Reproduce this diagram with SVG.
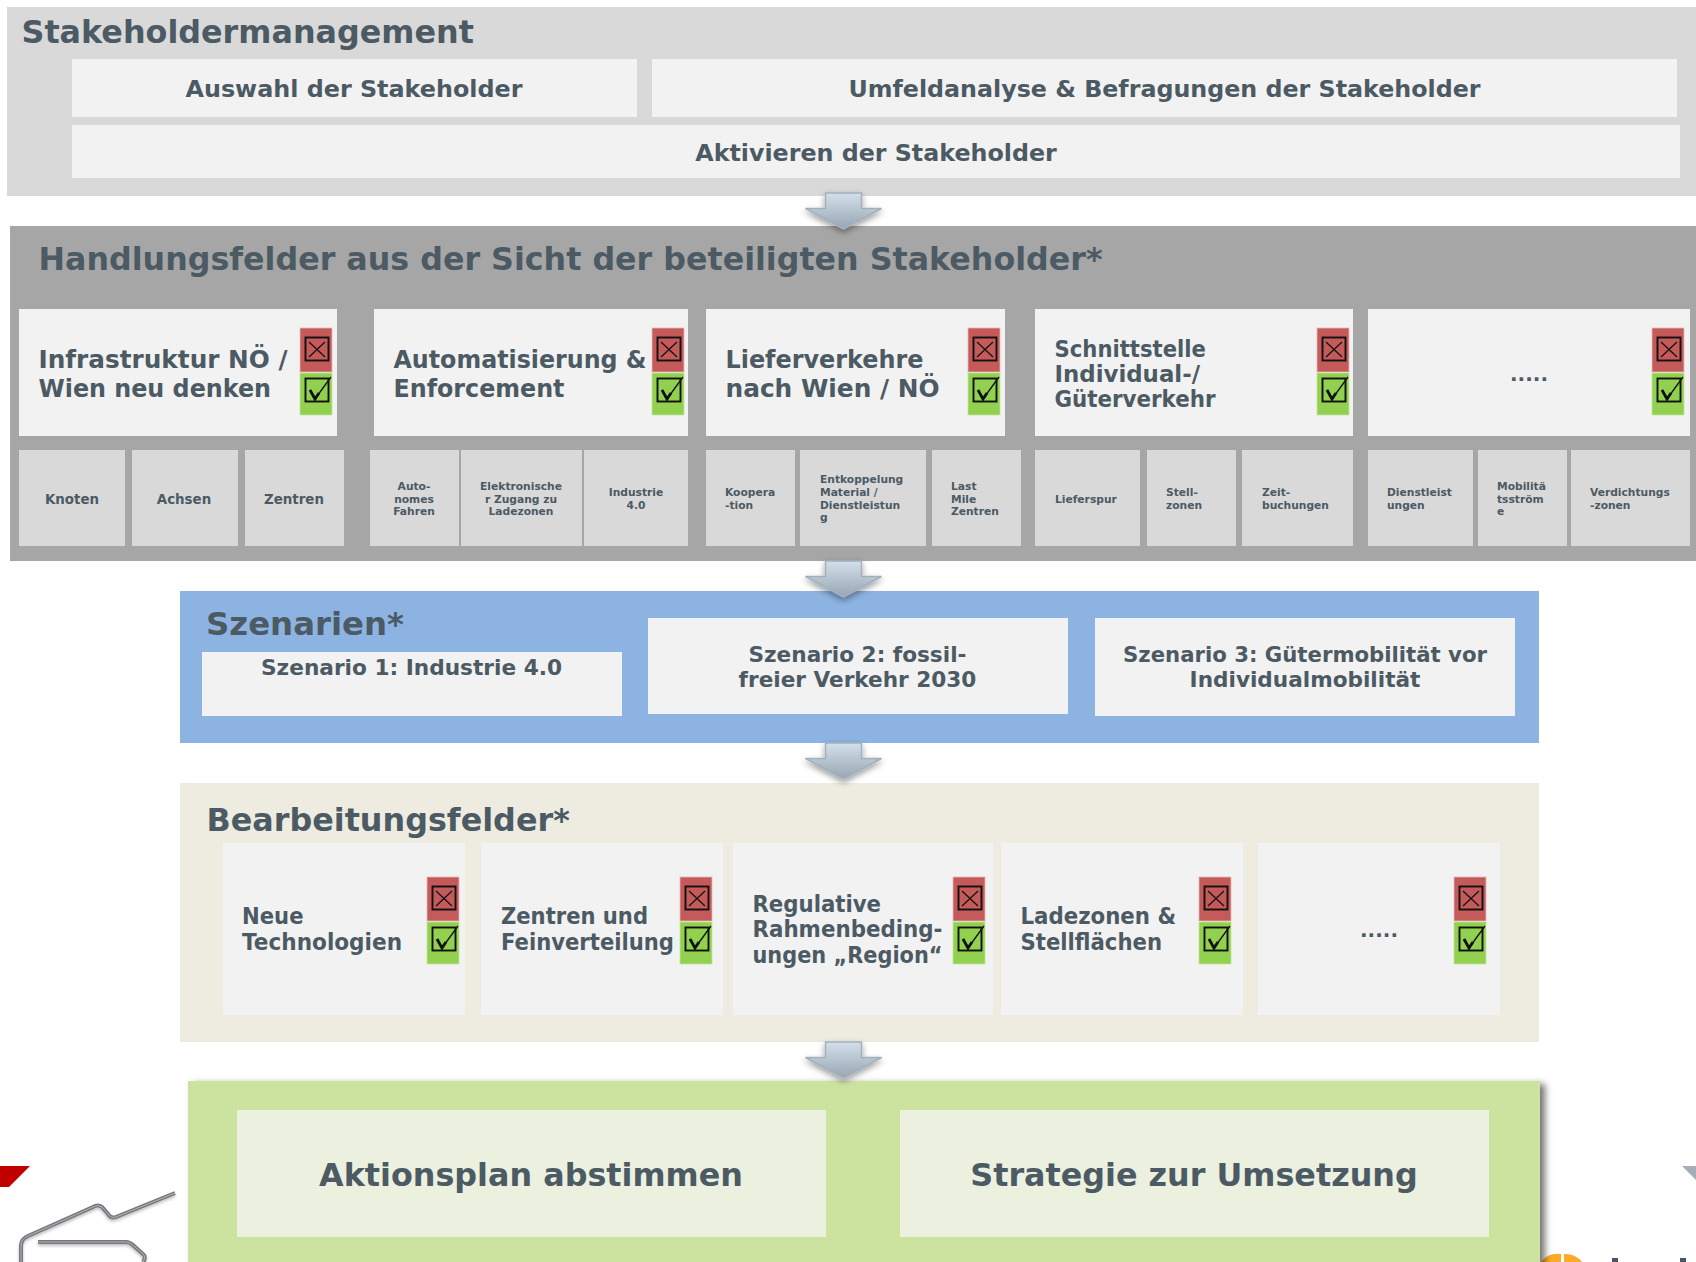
<svg xmlns="http://www.w3.org/2000/svg" width="1696" height="1262" viewBox="0 0 1696 1262">
<style>
text{font-family:"DejaVu Sans","Liberation Sans",sans-serif;font-weight:700;fill:#4c5a64}
.m{text-anchor:middle}
.t1{font-size:31.800px}.t2{font-size:23.750px}.t3{font-size:24.500px}.t4{font-size:22.500px}.t5{font-size:21.600px}.t6{font-size:13.400px}.t7{font-size:10.700px}.t8{font-size:31.800px}.t9{font-size:20px}
.w{fill:#f2f2f2}.c{fill:#d9d9d9}
</style>
<defs>
<linearGradient id="ag" x1="0" y1="0" x2="0" y2="1"><stop offset="0" stop-color="#d3e0ea"/><stop offset="1" stop-color="#97a6b3"/></linearGradient>
<filter id="as" x="-30%" y="-30%" width="160%" height="170%"><feDropShadow dx="0" dy="3" stdDeviation="3" flood-color="#000" flood-opacity=".4"/></filter>
<filter id="ps" x="-2%" y="-5%" width="105%" height="110%"><feDropShadow dx="5" dy="3" stdDeviation="3.500" flood-color="#000" flood-opacity=".55"/></filter>
<filter id="cs" x="-10%" y="-20%" width="120%" height="150%"><feDropShadow dx="0" dy="2" stdDeviation="1.500" flood-color="#000" flood-opacity=".25"/></filter>
<g id="badge">
<rect x="0" y="0" width="32" height="44" fill="#c55a5a" stroke="#e6b9b9" stroke-width=".8"/>
<rect x="0" y="45" width="32" height="42" fill="#92d050" stroke="#c5e59a" stroke-width=".8"/>
<rect x="5.500" y="9.500" width="23" height="23" fill="none" stroke="#111" stroke-width="1.900"/>
<path d="M9 14L25 29M25 14L9 29" fill="none" stroke="#111" stroke-width="1.200"/>
<rect x="5.500" y="50.500" width="23" height="23" fill="none" stroke="#111" stroke-width="1.900"/>
<path d="M10 62L15 71L31 49" fill="none" stroke="#111" stroke-width="1.300"/><path d="M10 62L15 71L19 65" fill="none" stroke="#111" stroke-width="2.800"/>
</g>
<path id="arrow" d="M-18 0H18V15.500H38L0 36L-38 15.500H-18Z" fill="url(#ag)" stroke="#a2b0bc" stroke-width="1.500" filter="url(#as)"/>
</defs>
<rect width="1696" height="1262" fill="#fff"/>
<g id="decoration">
<path d="M0 1166H30L9 1187H0Z" fill="#c00000"/>
<g filter="url(#cs)" fill="none">
<g stroke="#77777d" stroke-width="4">
<path d="M175 1193L116 1217Q111 1219 108 1214L102 1207Q98 1204 93 1207L28 1236Q21 1239 21 1246V1262"/>
<path d="M38 1242H126Q130 1242 134 1246L144 1255Q146 1258 143 1262"/>
</g>
<g stroke="#b5b5ba" stroke-width="1">
<path d="M175 1193L116 1217Q111 1219 108 1214L102 1207Q98 1204 93 1207L28 1236Q21 1239 21 1246V1262"/>
<path d="M38 1242H126Q130 1242 134 1246L144 1255Q146 1258 143 1262"/>
</g>
</g>
<path d="M1682 1166H1696V1180Z" fill="#a5aeb6"/>
<path d="M1541 1262A21 20 0 0 1 1561 1254V1262ZM1564 1254A21 20 0 0 1 1582 1262H1564Z" fill="#fbab26"/>
<rect x="1612" y="1258" width="6" height="4" fill="#4a5560"/><rect x="1680" y="1258" width="6" height="4" fill="#4a5560"/>
</g>
<g id="stakeholdermanagement">
<rect x="7" y="7" width="1689" height="189" class="c"/>
<text x="21.500" y="43" class="t1">Stakeholdermanagement</text>
<rect x="72" y="59" width="565" height="58" class="w"/><text x="354" y="97" class="t2 m" textLength="337" lengthAdjust="spacingAndGlyphs">Auswahl der Stakeholder</text>
<rect x="652" y="59" width="1025" height="58" class="w"/><text x="1164.500" y="97" class="t2 m">Umfeldanalyse &amp; Befragungen der Stakeholder</text>
<rect x="72" y="125" width="1608" height="53" class="w"/><text x="876" y="161" class="t2 m">Aktivieren der Stakeholder</text>
</g>
<g id="handlungsfelder">
<rect x="10" y="226" width="1686" height="335" fill="#a6a6a6"/>
<text x="38.500" y="270" class="t1" textLength="1064" lengthAdjust="spacingAndGlyphs">Handlungsfelder aus der Sicht der beteiligten Stakeholder*</text>
<g id="hf1"><rect x="19" y="309" width="318" height="127" class="w"/><text x="38.500" y="367.500" class="t3" textLength="249" lengthAdjust="spacingAndGlyphs">Infrastruktur NÖ /</text><text x="38.500" y="396.500" class="t3" textLength="232.500" lengthAdjust="spacingAndGlyphs">Wien neu denken</text><use href="#badge" x="300" y="328"/></g>
<g id="hf2"><rect x="374" y="309" width="314" height="127" class="w"/><text x="393.500" y="367.500" class="t3" textLength="253" lengthAdjust="spacingAndGlyphs">Automatisierung &amp;</text><text x="393.500" y="396.500" class="t3" textLength="171" lengthAdjust="spacingAndGlyphs">Enforcement</text><use href="#badge" x="652" y="328"/></g>
<g id="hf3"><rect x="706" y="309" width="299" height="127" class="w"/><text x="725.500" y="367.500" class="t3" textLength="198" lengthAdjust="spacingAndGlyphs">Lieferverkehre</text><text x="725.500" y="396.500" class="t3" textLength="214" lengthAdjust="spacingAndGlyphs">nach Wien / NÖ</text><use href="#badge" x="968" y="328"/></g>
<g id="hf4"><rect x="1035" y="309" width="318" height="127" class="w"/><text x="1054.500" y="356.500" class="t4" textLength="151.500" lengthAdjust="spacingAndGlyphs">Schnittstelle</text><text x="1054.500" y="381.500" class="t4" textLength="145.500" lengthAdjust="spacingAndGlyphs">Individual-/</text><text x="1054.500" y="407" class="t4" textLength="161" lengthAdjust="spacingAndGlyphs">Güterverkehr</text><use href="#badge" x="1317" y="328"/></g>
<g id="hf5"><rect x="1368" y="309" width="322" height="127" class="w"/><text x="1529" y="381" class="t9 m">.....</text><use href="#badge" x="1652" y="328"/></g>
<g id="sub-knoten"><rect x="19" y="450" width="106" height="96" class="c"/><text x="72" y="503.500" class="t6 m">Knoten</text></g>
<g id="sub-achsen"><rect x="132" y="450" width="106" height="96" class="c"/><text x="184" y="503.500" class="t6 m">Achsen</text></g>
<g id="sub-zentren"><rect x="245" y="450" width="99" height="96" class="c"/><text x="294" y="503.500" class="t6 m">Zentren</text></g>
<g id="sub-auto"><rect x="370" y="450" width="89" height="96" class="c"/><text x="414" y="489.500" class="t7 m">Auto-</text><text x="414" y="502.500" class="t7 m">nomes</text><text x="414" y="514.500" class="t7 m">Fahren</text></g>
<g id="sub-zugang"><rect x="461" y="450" width="121" height="96" class="c"/><text x="521" y="489.500" class="t7 m">Elektronische</text><text x="521" y="502.500" class="t7 m">r Zugang zu</text><text x="521" y="514.500" class="t7 m">Ladezonen</text></g>
<g id="sub-industrie"><rect x="584" y="450" width="104" height="96" class="c"/><text x="636" y="495.500" class="t7 m">Industrie</text><text x="636" y="508.500" class="t7 m">4.0</text></g>
<g id="sub-kooperation"><rect x="706" y="450" width="89" height="96" class="c"/><text x="725" y="495.500" class="t7">Koopera</text><text x="725" y="508.500" class="t7">-tion</text></g>
<g id="sub-entkoppelung"><rect x="800" y="450" width="126" height="96" class="c"/><text x="820" y="482.500" class="t7">Entkoppelung</text><text x="820" y="495.500" class="t7">Material /</text><text x="820" y="508.500" class="t7">Dienstleistun</text><text x="820" y="521" class="t7">g</text></g>
<g id="sub-lastmile"><rect x="932" y="450" width="89" height="96" class="c"/><text x="951" y="489.500" class="t7">Last</text><text x="951" y="502.500" class="t7">Mile</text><text x="951" y="514.500" class="t7">Zentren</text></g>
<g id="sub-lieferspur"><rect x="1035" y="450" width="105" height="96" class="c"/><text x="1055" y="503" class="t7">Lieferspur</text></g>
<g id="sub-stell"><rect x="1147" y="450" width="89" height="96" class="c"/><text x="1166" y="495.500" class="t7">Stell-</text><text x="1166" y="508.500" class="t7">zonen</text></g>
<g id="sub-zeit"><rect x="1242" y="450" width="111" height="96" class="c"/><text x="1262" y="495.500" class="t7">Zeit-</text><text x="1262" y="508.500" class="t7">buchungen</text></g>
<g id="sub-dienst"><rect x="1368" y="450" width="105" height="96" class="c"/><text x="1387" y="495.500" class="t7">Dienstleist</text><text x="1387" y="508.500" class="t7">ungen</text></g>
<g id="sub-mobil"><rect x="1478" y="450" width="89" height="96" class="c"/><text x="1497" y="489.500" class="t7">Mobilitä</text><text x="1497" y="502.500" class="t7">tsström</text><text x="1497" y="514.500" class="t7">e</text></g>
<g id="sub-verdichtung"><rect x="1571" y="450" width="119" height="96" class="c"/><text x="1590" y="495.500" class="t7">Verdichtungs</text><text x="1590" y="508.500" class="t7">-zonen</text></g>
</g>
<g id="szenarien">
<rect x="180" y="591" width="1359" height="152" fill="#8db3e2"/>
<text x="206" y="635" class="t1" textLength="198" lengthAdjust="spacingAndGlyphs">Szenarien*</text>
<g id="sz1"><rect x="202" y="652" width="420" height="64" class="w"/><text x="411.500" y="675" class="t5 m" textLength="301" lengthAdjust="spacingAndGlyphs">Szenario 1: Industrie 4.0</text></g>
<g id="sz2"><rect x="648" y="618" width="420" height="96" class="w"/><text x="857.500" y="662" class="t5 m">Szenario 2: fossil-</text><text x="857.500" y="687" class="t5 m">freier Verkehr 2030</text></g>
<g id="sz3"><rect x="1095" y="618" width="420" height="98" class="w"/><text x="1305" y="662" class="t5 m" textLength="364" lengthAdjust="spacingAndGlyphs">Szenario 3: Gütermobilität vor</text><text x="1305" y="687" class="t5 m">Individualmobilität</text></g>
</g>
<g id="bearbeitungsfelder">
<rect x="180" y="783" width="1359" height="259" fill="#eeece1"/>
<text x="206.500" y="831" class="t1">Bearbeitungsfelder*</text>
<g id="bf1"><rect x="223" y="843" width="242" height="172" class="w"/><text x="242" y="924" class="t4" textLength="61.500" lengthAdjust="spacingAndGlyphs">Neue</text><text x="242" y="950" class="t4" textLength="160" lengthAdjust="spacingAndGlyphs">Technologien</text><use href="#badge" x="427" y="877"/></g>
<g id="bf2"><rect x="481" y="843" width="242" height="172" class="w"/><text x="501" y="924" class="t4" textLength="147" lengthAdjust="spacingAndGlyphs">Zentren und</text><text x="501" y="950" class="t4" textLength="173" lengthAdjust="spacingAndGlyphs">Feinverteilung</text><use href="#badge" x="680" y="877"/></g>
<g id="bf3"><rect x="733" y="843" width="260" height="172" class="w"/><text x="752.500" y="912" class="t4" textLength="128.500" lengthAdjust="spacingAndGlyphs">Regulative</text><text x="752.500" y="937" class="t4" textLength="190" lengthAdjust="spacingAndGlyphs">Rahmenbeding-</text><text x="752.500" y="963" class="t4" textLength="190" lengthAdjust="spacingAndGlyphs">ungen „Region“</text><use href="#badge" x="953" y="877"/></g>
<g id="bf4"><rect x="1001" y="843" width="242" height="172" class="w"/><text x="1020.500" y="924" class="t4" textLength="155.500" lengthAdjust="spacingAndGlyphs">Ladezonen &amp;</text><text x="1020.500" y="950" class="t4" textLength="141.500" lengthAdjust="spacingAndGlyphs">Stellflächen</text><use href="#badge" x="1199" y="877"/></g>
<g id="bf5"><rect x="1258" y="843" width="242" height="172" class="w"/><text x="1379" y="937" class="t9 m">.....</text><use href="#badge" x="1454" y="877"/></g>
</g>
<g id="ergebnis">
<rect x="188" y="1081" width="1352" height="190" fill="#cce3a0" filter="url(#ps)"/>
<g id="aktionsplan"><rect x="237" y="1110" width="589" height="127" fill="#ebf0df"/><text x="531" y="1186" class="t8 m">Aktionsplan abstimmen</text></g>
<g id="strategie"><rect x="900" y="1110" width="589" height="127" fill="#ebf0df"/><text x="1194" y="1186" class="t8 m">Strategie zur Umsetzung</text></g>
</g>
<g id="connectors">
<use href="#arrow" x="843.500" y="193"/>
<use href="#arrow" x="843.500" y="561"/>
<use href="#arrow" x="843.500" y="743"/>
<use href="#arrow" x="843.500" y="1042"/>
</g>
</svg>
